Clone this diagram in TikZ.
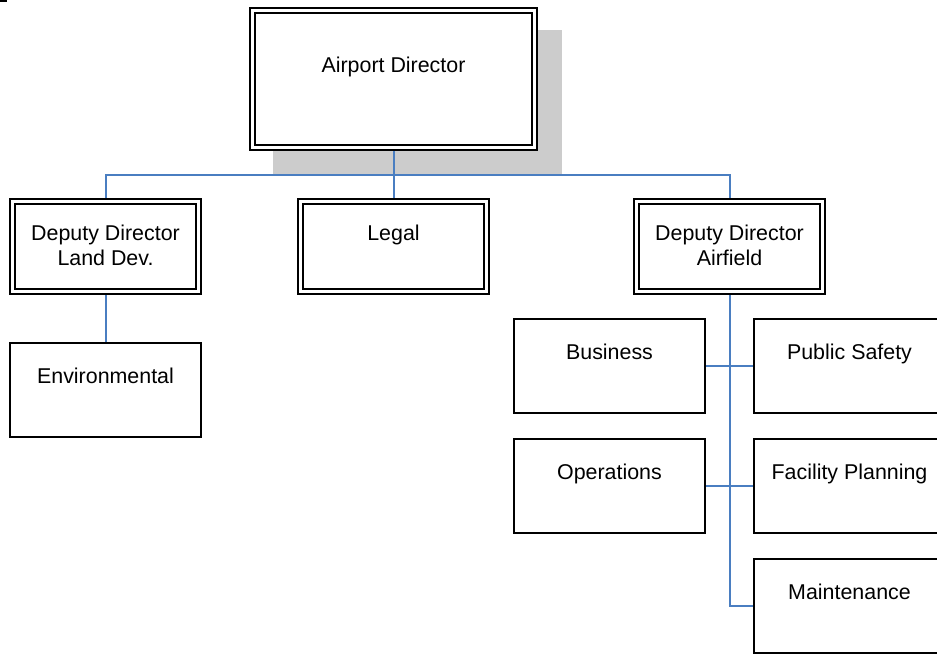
\documentclass[tikz,border=0pt]{standalone}
\usepackage{fontspec}
\setmainfont{Liberation Sans}
\usetikzlibrary{backgrounds}
\definecolor{linkblue}{RGB}{74,126,193}
\definecolor{shadowgray}{RGB}{204,204,204}
\begin{document}
\begin{tikzpicture}[x=1pt,y=-1pt,
  box/.style={inner sep=0pt, outer sep=0pt, font=\fontsize{21.4}{25}\selectfont, fill=white, draw=black, line width=2pt},
  unitbox/.style={box, minimum width=191pt, minimum height=94pt, text height=40pt, text depth=54pt},
  headbox/.style={box, double, double distance=3pt, minimum width=186pt, minimum height=90pt, text height=38.5pt, text depth=51.5pt},
  topbox/.style={box, double, double distance=3pt, minimum width=282pt, minimum height=137pt, text height=61.5pt, text depth=75.5pt},
  link/.style={draw=linkblue, line width=2pt}]
\useasboundingbox (0,0) rectangle (937,654);
\clip (0,0) rectangle (937,654);
\fill[black] (0,0) rectangle (7,2);
% boxes
\node[topbox] (ad) at (393.5,79) {Airport Director};
\node[headbox] (ddl) at (105.5,246.5) {\begin{tabular}[t]{@{}c@{}}Deputy Director\\Land Dev.\end{tabular}};
\node[headbox] (legal) at (393.5,246.5) {Legal};
\node[headbox] (dda) at (729.5,246.5) {\begin{tabular}[t]{@{}c@{}}Deputy Director\\Airfield\end{tabular}};
\node[unitbox] (env) at (105.5,390) {Environmental};
\node[unitbox] (bus) at (609.5,366) {Business};
\node[unitbox] (ps) at (849.5,366) {Public Safety};
\node[unitbox] (ops) at (609.5,486) {Operations};
\node[unitbox] (fp) at (849.5,486) {Facility Planning};
\node[unitbox] (mnt) at (849.5,606) {Maintenance};
\coordinate (j) at (393.5,175);
\begin{pgfonlayer}{background}
  \fill[shadowgray] (273,30) rectangle (562,175);
  \draw[link] (ad.south) -- (ad.south |- j);
  \draw[link] (ddl.north) -- (ddl.north |- j) -- (dda.north |- j) -- (dda.north);
  \draw[link] (legal.north) -- (legal.north |- j);
  \draw[link] (ddl.south) -- (env.north);
  \draw[link] (dda.south) |- (mnt.west);
  \draw[link] (bus.east) -- (ps.west);
  \draw[link] (ops.east) -- (fp.west);
\end{pgfonlayer}
\end{tikzpicture}
\end{document}
